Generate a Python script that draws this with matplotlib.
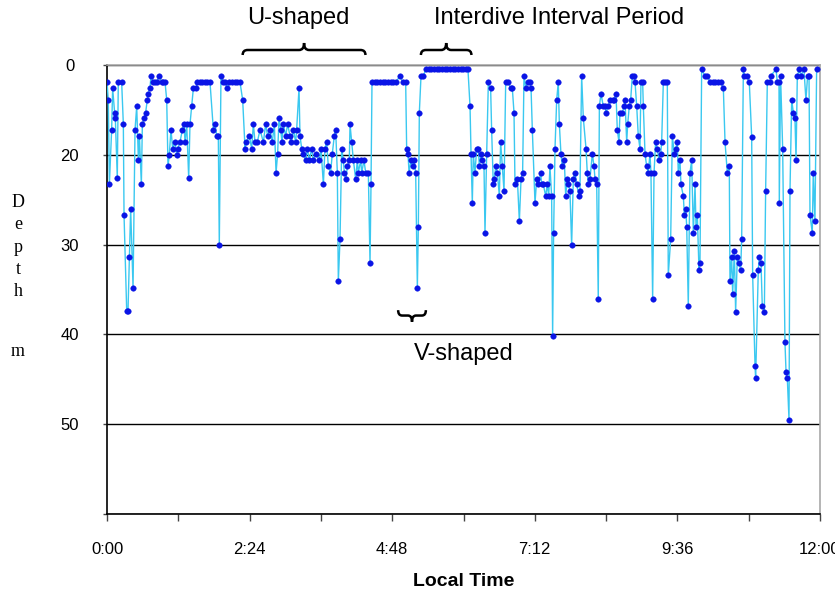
import matplotlib
matplotlib.use('Agg')
import matplotlib.pyplot as plt
from matplotlib.path import Path
from matplotlib.patches import PathPatch
from matplotlib.transforms import blended_transform_factory

# dive record: minutes after 0:00 and depth (axis units)
minutes = [
    0.0, 1.3, 2.4, 4.7, 5.7, 7.7, 8.4, 10.4, 11.4, 14.8,
    16.5, 17.2, 19.9, 21.2, 22.6, 23.9, 26.3, 28.3, 30.0, 31.7,
    32.7, 34.7, 35.7, 37.7, 39.0, 40.7, 41.7, 43.4, 44.4, 46.8,
    48.5, 50.2, 52.9, 55.2, 56.9, 58.6, 60.3, 61.6, 62.9, 64.6,
    66.3, 68.7, 70.4, 71.4, 73.7, 76.1, 77.8, 78.8, 80.5, 82.5,
    83.8, 85.5, 87.2, 89.9, 91.2, 93.9, 96.3, 99.0, 101.3, 104.0,
    107.4, 109.1, 110.8, 112.4, 113.4, 115.1, 117.5, 119.5, 121.5, 123.5,
    126.2, 128.9, 131.6, 134.3, 137.0, 139.4, 140.4, 143.7, 146.1, 147.8,
    149.5, 151.8, 154.5, 157.9, 160.2, 162.2, 164.6, 166.9, 169.0, 170.7,
    172.3, 173.7, 175.4, 176.7, 178.1, 180.4, 182.4, 184.8, 186.1, 188.2,
    190.5, 191.5, 193.9, 194.9, 196.6, 198.2, 200.6, 202.3, 204.3, 206.7,
    208.4, 211.1, 214.4, 216.1, 218.5, 220.1, 221.8, 223.5, 225.8, 227.5,
    229.5, 230.9, 232.6, 233.6, 235.3, 237.0, 238.6, 239.7, 241.3, 242.7,
    244.7, 245.4, 247.1, 248.8, 251.1, 252.8, 253.8, 256.2, 257.2, 259.5,
    261.2, 263.9, 265.6, 266.6, 267.6, 270.3, 273.0, 275.7, 278.4, 281.1,
    283.8, 286.4, 289.1, 291.8, 295.9, 298.6, 301.6, 302.6, 304.0, 305.0,
    307.0, 308.7, 310.0, 311.7, 313.4, 314.4, 315.4, 317.1, 319.4, 322.1,
    324.8, 327.5, 330.2, 332.9, 335.6, 338.3, 341.0, 343.7, 346.4, 349.1,
    351.7, 354.4, 357.1, 359.8, 362.2, 364.5, 366.6, 367.6, 368.9, 369.9,
    371.6, 373.3, 375.0, 376.0, 377.7, 379.0, 380.7, 381.7, 383.4, 385.1,
    387.4, 388.4, 390.1, 391.1, 392.5, 394.2, 396.2, 397.5, 399.2, 400.9,
    402.6, 405.3, 407.6, 409.3, 411.0, 412.0, 414.4, 416.4, 418.1, 419.7,
    421.1, 423.1, 424.8, 427.1, 428.2, 429.5, 432.2, 433.9, 435.6, 437.9,
    438.9, 440.6, 443.0, 444.6, 446.0, 447.3, 449.0, 450.0, 451.0, 452.4,
    454.1, 455.7, 456.8, 458.4, 459.8, 461.8, 463.2, 464.8, 465.9, 467.5,
    469.2, 470.9, 472.6, 474.3, 476.6, 477.6, 479.3, 481.0, 483.7, 485.0,
    486.0, 487.7, 490.1, 491.8, 492.8, 494.5, 496.1, 497.2, 498.8, 501.2,
    502.9, 503.9, 506.2, 507.9, 510.6, 512.3, 514.0, 515.3, 517.0, 518.0,
    520.4, 522.1, 523.1, 524.8, 525.8, 527.4, 528.8, 530.5, 532.5, 533.2,
    534.9, 536.5, 538.2, 539.2, 540.9, 541.6, 543.3, 545.0, 546.6, 548.3,
    549.3, 551.0, 552.4, 554.0, 555.7, 557.4, 559.1, 560.1, 561.8, 563.8,
    565.8, 566.8, 569.2, 570.9, 572.9, 574.3, 575.9, 576.9, 578.6, 579.6,
    582.0, 583.0, 584.4, 585.4, 587.0, 588.7, 590.4, 592.1, 593.8, 594.8,
    596.1, 597.8, 598.8, 600.5, 603.9, 606.2, 608.9, 611.6, 614.3, 617.0,
    619.7, 622.4, 624.1, 626.4, 628.4, 629.1, 630.8, 631.8, 633.5, 634.8,
    636.5, 638.2, 639.9, 640.9, 642.6, 643.6, 645.9, 648.6, 651.0, 652.0,
    654.4, 655.0, 657.7, 658.7, 660.4, 661.7, 663.8, 665.1, 666.8, 669.5,
    670.2, 675.6, 676.9, 678.6, 678.9, 680.2, 682.3, 684.6, 685.7, 687.0,
    688.7, 689.7, 691.4, 693.1, 694.7, 695.8, 697.1, 699.1, 700.5, 703.8,
    705.8, 707.5, 708.9, 709.9, 712.2, 713.2, 714.9, 716.6,
]
depth = [
    11.9, 13.9, 23.3, 17.2, 12.6, 15.3, 15.9, 22.6, 11.9, 11.9,
    16.6, 26.7, 37.4, 37.4, 31.4, 26.0, 34.8, 17.2, 14.6, 20.6,
    17.9, 23.3, 16.6, 15.9, 15.3, 13.9, 13.2, 12.6, 11.2, 11.9,
    11.9, 11.9, 11.2, 11.9, 11.9, 11.9, 13.9, 21.3, 20.0, 17.2,
    19.3, 18.6, 20.0, 19.3, 18.6, 17.2, 16.6, 18.6, 16.6, 22.6,
    16.6, 14.6, 12.6, 12.6, 11.9, 11.9, 11.9, 11.9, 11.9, 11.9,
    17.2, 16.6, 17.9, 17.9, 30.0, 11.2, 11.9, 11.9, 12.6, 11.9,
    11.9, 11.9, 11.9, 11.9, 13.9, 19.3, 18.6, 17.9, 19.3, 16.6,
    18.6, 18.6, 17.2, 18.6, 16.6, 17.9, 17.2, 18.6, 16.6, 22.0,
    19.9, 15.9, 17.2, 18.6, 16.6, 17.9, 16.6, 17.9, 18.6, 17.2,
    18.6, 17.2, 12.6, 17.9, 19.3, 19.9, 20.6, 19.3, 20.6, 19.3,
    20.6, 19.9, 20.6, 19.3, 23.3, 19.3, 18.6, 21.3, 22.0, 19.9,
    17.9, 17.2, 22.0, 34.1, 29.4, 19.3, 20.6, 22.0, 22.7, 21.3,
    20.6, 16.6, 18.6, 20.6, 22.7, 20.6, 22.0, 20.6, 22.0, 20.6,
    22.0, 22.0, 32.1, 23.3, 11.9, 11.9, 11.9, 11.9, 11.9, 11.9,
    11.9, 11.9, 11.9, 11.9, 11.2, 11.9, 11.9, 19.3, 19.9, 22.0,
    20.6, 21.3, 20.6, 22.0, 34.8, 28.0, 15.3, 11.2, 11.2, 10.5,
    10.5, 10.5, 10.5, 10.5, 10.5, 10.5, 10.5, 10.5, 10.5, 10.5,
    10.5, 10.5, 10.5, 10.5, 10.5, 10.5, 14.6, 19.9, 25.4, 19.9,
    22.0, 19.3, 19.3, 21.3, 19.9, 20.6, 21.3, 28.7, 19.9, 11.9,
    12.6, 17.2, 23.3, 22.7, 21.3, 22.0, 24.6, 18.6, 21.3, 24.0,
    11.9, 11.9, 12.6, 12.6, 15.3, 23.3, 22.7, 27.4, 22.7, 22.0,
    11.2, 12.6, 11.9, 11.9, 12.6, 17.2, 25.4, 22.7, 23.3, 22.0,
    23.3, 23.3, 24.6, 23.3, 24.6, 21.3, 24.6, 40.2, 28.7, 19.3,
    13.9, 11.9, 16.6, 19.9, 21.3, 20.6, 24.6, 22.7, 23.3, 24.0,
    30.1, 22.7, 22.0, 23.3, 24.6, 24.0, 11.2, 15.9, 19.3, 22.0,
    23.3, 22.7, 19.9, 21.3, 22.7, 23.3, 36.1, 14.6, 13.2, 14.6,
    14.6, 15.3, 14.6, 13.9, 13.9, 13.9, 13.2, 17.2, 18.6, 15.3,
    15.3, 14.6, 13.9, 18.6, 16.6, 14.6, 13.9, 11.2, 11.2, 11.9,
    14.6, 17.9, 19.3, 11.9, 11.9, 14.6, 19.9, 21.3, 22.0, 19.9,
    22.0, 36.1, 22.0, 18.6, 19.3, 20.6, 19.9, 18.6, 11.9, 11.9,
    11.9, 33.4, 29.4, 17.9, 19.9, 19.3, 18.6, 22.0, 20.6, 23.3,
    24.6, 26.7, 26.0, 28.0, 36.8, 22.0, 20.6, 28.7, 23.3, 28.0,
    26.7, 32.8, 32.0, 10.5, 11.2, 11.2, 11.9, 11.9, 11.9, 11.9,
    11.9, 12.6, 18.6, 22.0, 21.3, 34.1, 31.4, 35.5, 30.7, 37.5,
    31.4, 32.0, 32.8, 29.4, 10.5, 11.2, 11.2, 11.9, 18.0, 33.4,
    43.5, 44.9, 32.8, 31.4, 32.0, 36.8, 37.5, 24.0, 11.9, 11.9,
    11.2, 10.5, 11.9, 11.9, 25.4, 11.2, 19.3, 40.8, 44.2, 44.9,
    49.5, 24.0, 13.9, 15.3, 15.9, 20.6, 11.2, 10.5, 11.2, 10.5,
    13.9, 11.2, 11.2, 26.7, 28.7, 22.0, 27.4, 10.5,
]

x_ticks = [0, 144, 288, 432, 576, 720]
x_tick_labels = ['0:00', '2:24', '4:48', '7:12', '9:36', '12:00']
x_minor_ticks = [72, 216, 360, 504, 648]
y_ticks = [10, 20, 30, 40, 50, 60]
y_tick_labels = ['0', '20', '30', '40', '50', '']


def draw_brace(ax, x0, x1, y_end, y_bar, y_tip, trans, r=5):
    xm = (x0 + x1) / 2
    verts = [(x0, y_end), (x0, y_bar), (x0 + r, y_bar), (xm - r, y_bar),
             (xm, y_bar), (xm, y_tip), (xm, y_bar), (xm + r, y_bar),
             (x1 - r, y_bar), (x1, y_bar), (x1, y_end)]
    codes = [Path.MOVETO, Path.CURVE3, Path.CURVE3, Path.LINETO,
             Path.CURVE3, Path.CURVE3, Path.CURVE3, Path.CURVE3,
             Path.LINETO, Path.CURVE3, Path.CURVE3]
    patch = PathPatch(Path(verts, codes), fill=False, lw=1.8,
                      edgecolor='black', transform=trans, clip_on=False)
    ax.add_artist(patch)


fig = plt.figure(figsize=(8.35, 5.95), dpi=100)
ax = fig.add_axes([107 / 835, 1 - 514 / 595, 713 / 835, 449 / 595])

ax.plot(minutes, depth, color='#3ac8f0', lw=1.0, marker='o', markersize=4.0,
        markerfacecolor='#0a14e6', markeredgecolor='#0a14e6', markeredgewidth=0.3,
        zorder=3)

ax.set_xlim(0, 720)
ax.set_ylim(60, 10)
ax.set_axisbelow(True)
ax.yaxis.grid(True, color='black', lw=1.0)

ax.set_xticks(x_ticks)
ax.set_xticklabels(x_tick_labels, fontfamily='Liberation Sans', fontsize=12)
ax.set_xticks(x_minor_ticks, minor=True)
ax.tick_params(axis='x', which='both', direction='out', length=5, width=1,
               pad=15, color='#444444')
ax.set_yticks(y_ticks)
ax.set_yticklabels(y_tick_labels, fontfamily='Liberation Sans', fontsize=12,
                   ha='center')
ax.tick_params(axis='y', direction='out', length=3, width=1, pad=24,
               color='#444444')

for side in ['top', 'right']:
    ax.spines[side].set_color('#a8a8a8')
for side in ['left', 'bottom']:
    ax.spines[side].set_color('black')
for side in ax.spines:
    ax.spines[side].set_linewidth(1.2)

ax.set_xlabel('Local Time', fontfamily='Liberation Sans', fontsize=14,
              fontweight='bold', labelpad=12)

fig.text(18 / 835, 1 - 247 / 595, 'D\ne\np\nt\nh', fontfamily='Liberation Serif',
         fontsize=13, ha='center', va='center', linespacing=1.42)
fig.text(18 / 835, 1 - 351 / 595, 'm', fontfamily='Liberation Serif',
         fontsize=13, ha='center', va='center')

top = blended_transform_factory(ax.transData, fig.transFigure)
ax.text(193, 1 - 18 / 595, 'U-shaped', transform=top, fontfamily='Liberation Sans',
        fontsize=17, ha='center', va='center')
ax.text(457, 1 - 18 / 595, 'Interdive Interval Period', transform=top,
        fontfamily='Liberation Sans', fontsize=17, ha='center', va='center')
ax.text(360, 42.2, 'V-shaped', fontfamily='Liberation Sans', fontsize=17,
        ha='center', va='center')

draw_brace(ax, 137, 261, 1 - 55 / 595, 1 - 50 / 595, 1 - 43 / 595, top)
draw_brace(ax, 317, 368, 1 - 55 / 595, 1 - 50 / 595, 1 - 43 / 595, top)
draw_brace(ax, 294, 322, 37.3, 37.9, 38.6, ax.transData, r=4)

fig.savefig('out.png', dpi=100)
